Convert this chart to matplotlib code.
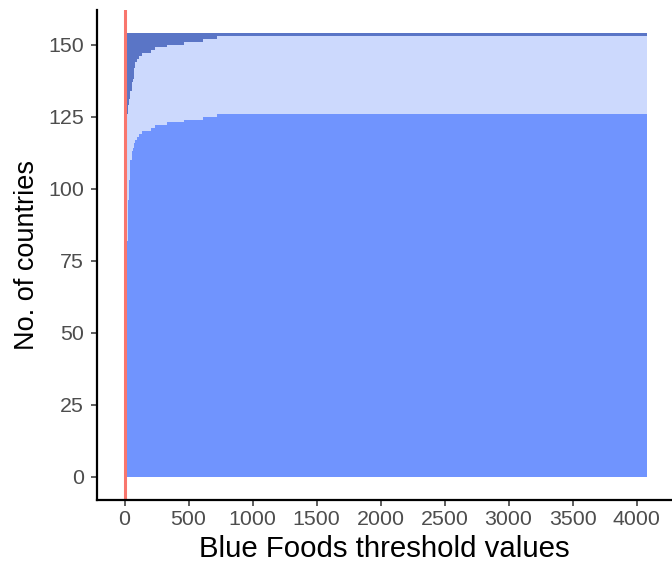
import matplotlib
matplotlib.use("Agg")
import matplotlib.pyplot as plt
import numpy as np

plt.rcParams['font.family'] = ['Liberation Sans', 'DejaVu Sans']

# threshold where each count level starts (bars are 10 units wide, centred)
thresholds = [10, 20, 30, 40, 50, 60, 70, 80, 90, 100, 120, 140,
              210, 240, 340, 470, 620, 730]
last_threshold = 4080
# countries in bottom group (medium blue)
bottom_counts = [66, 82, 96, 103, 110, 113, 114, 116, 117, 118, 119, 120,
                 121, 122, 123, 124, 125, 126]
# cumulative count up to top of light group
upper_counts = [124, 126, 129, 131, 134, 137, 138, 142, 144, 145, 146, 147,
                148, 149, 150, 151, 152, 153]
total_countries = 154
cutoff = 0

thr = np.array(thresholds)
left = thr - 5
right = np.append(thr[1:] - 5, last_threshold + 5)
width = right - left
b = np.array(bottom_counts)
u = np.array(upper_counts)

fig = plt.figure(figsize=(6.72, 5.71), dpi=100)
ax = fig.add_axes([97 / 672, 71 / 571, 575 / 672, 490 / 571])

ax.bar(left, b, width=width, align='edge', color='#7094FE', linewidth=0)
ax.bar(left, u - b, width=width, bottom=b, align='edge', color='#CCD9FD', linewidth=0)
ax.bar(left, total_countries - u, width=width, bottom=u, align='edge',
       color='#5A75C6', linewidth=0)
ax.axvline(cutoff, color='#F8766D', linewidth=2.2)

ax.set_xlim(-215, 4277)
ax.set_ylim(-8, 162)
ax.set_xticks(np.arange(0, 4001, 500))
ax.set_yticks(np.arange(0, 151, 25))

for s in ['top', 'right']:
    ax.spines[s].set_visible(False)
for s in ['left', 'bottom']:
    ax.spines[s].set_linewidth(1.6)
    ax.spines[s].set_color('black')

ax.tick_params(axis='both', labelsize=15.4, labelcolor='#4D4D4D', color='#333333',
               length=4.3, width=1.1)
ax.tick_params(axis='x', pad=3)
ax.tick_params(axis='y', pad=5)

ax.set_xlabel('Blue Foods threshold values', fontsize=21.2, labelpad=4)
ax.set_ylabel('No. of countries', fontsize=19.5, labelpad=6)

fig.savefig('out.png', dpi=100)
